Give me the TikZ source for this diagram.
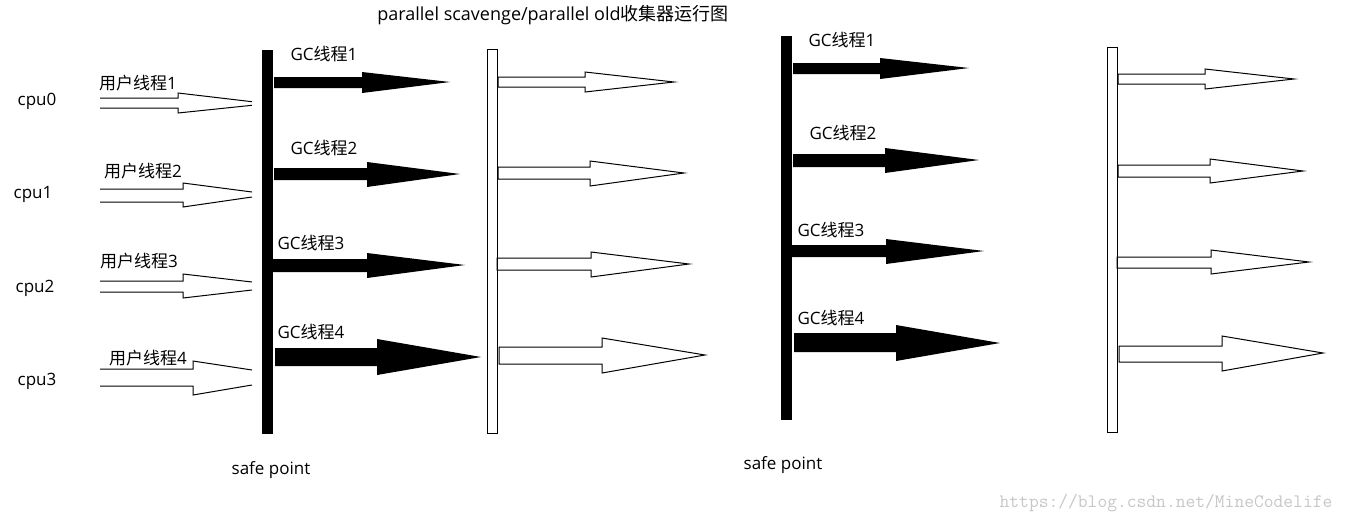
\documentclass[tikz,border=0pt]{standalone}
\usepackage{fontspec}
\setmainfont{Open Sans}
\newfontfamily\cjk{Noto Sans CJK SC}
\begin{document}
\begin{tikzpicture}[x=1pt,y=-1pt,lbl/.style={font=\fontsize{17}{20}\selectfont,inner sep=0pt},sp/.style={fill=black},hb/.style={draw=black,fill=white,line width=1pt},blk/.style={fill=black},hol/.style={draw=black,line width=1pt,line join=miter}]
            \fill[white] (0,0) rectangle (1346,523);
            \useasboundingbox (0,0) rectangle (1346,523);
            \node[lbl,font=\fontsize{18}{20}\selectfont] (title) at (553,15) {parallel scavenge/parallel old{\cjk 收集器运行图}};

            \node[lbl] (cpu0) at (37,101) {cpu0};
            \node[lbl] (cpu1) at (33,194) {cpu1};
            \node[lbl] (cpu2) at (35,288) {cpu2};
            \node[lbl] (cpu3) at (37,381) {cpu3};
            \node[lbl] (u1) at (138,83) {{\cjk 用户线程}1};
            \node[lbl] (u2) at (143,171) {{\cjk 用户线程}2};
            \node[lbl] (u3) at (139,261) {{\cjk 用户线程}3};
            \node[lbl] (u4) at (148,358) {{\cjk 用户线程}4};

            \draw[hol] (100,98) -- (178,98) -- (178,93) -- (252,101.7);
            \draw[hol] (100,108) -- (178,108) -- (178,113) -- (252,105.3);
            \draw[hol] (100,189) -- (183,189) -- (183,183) -- (252,192);
            \draw[hol] (100,202) -- (183,202) -- (183,207) -- (252,197);
            \draw[hol] (100,281) -- (183,281) -- (183,274) -- (252,282);
            \draw[hol] (100,292) -- (183,292) -- (183,298) -- (252,290);
            \draw[hol] (100,369) -- (193,369) -- (193,361) -- (252,370);
            \draw[hol] (100,386) -- (193,386) -- (193,395) -- (252,385);

            \fill[sp] (262,50) rectangle (273,434);
            \node[lbl] (gl1) at (324,54) {GC{\cjk 线程}1};
            \node[lbl] (gl2) at (324,148) {GC{\cjk 线程}2};
            \node[lbl] (gl3) at (311,243) {GC{\cjk 线程}3};
            \node[lbl] (gl4) at (311,332) {GC{\cjk 线程}4};
            \fill[blk] (274,77) -- (362,77) -- (362,72) -- (450,82) -- (362,93) -- (362,88) -- (274,88) -- cycle;
            \fill[blk] (274,168) -- (367,168) -- (367,162) -- (460,174) -- (367,187) -- (367,180) -- (274,180) -- cycle;
            \fill[blk] (273,259) -- (367,259) -- (367,253) -- (465,265) -- (367,278) -- (367,272) -- (273,272) -- cycle;
            \fill[blk] (275,348) -- (377,348) -- (377,339) -- (481,357) -- (377,375) -- (377,366) -- (275,366) -- cycle;

            \draw[hb] (487,49) rectangle (497,433);
            \draw[hol] (498,77) -- (585,77) -- (585,72) -- (674,82) -- (585,92) -- (585,87) -- (498,87) -- cycle;
            \draw[hol] (498,167) -- (590,167) -- (590,161) -- (684,173) -- (590,186) -- (590,179) -- (498,179) -- cycle;
            \draw[hol] (497,258) -- (591,258) -- (591,252) -- (689,264) -- (591,277) -- (591,270) -- (497,270) -- cycle;
            \draw[hol] (499,347) -- (602,347) -- (602,338) -- (705,355) -- (602,373) -- (602,364) -- (499,364) -- cycle;
            \node[lbl] (safe1) at (271,470) {safe point};

            \fill[sp] (781,36) rectangle (792,420);
            \node[lbl] (gr1) at (842,40) {GC{\cjk 线程}1};
            \node[lbl] (gr2) at (843,133) {GC{\cjk 线程}2};
            \node[lbl] (gr3) at (831,230) {GC{\cjk 线程}3};
            \node[lbl] (gr4) at (831,318) {GC{\cjk 线程}4};
            \fill[blk] (793,63) -- (880,63) -- (880,58) -- (969,68) -- (880,79) -- (880,74) -- (793,74) -- cycle;
            \fill[blk] (793,154) -- (885,154) -- (885,148) -- (979,160) -- (885,173) -- (885,167) -- (793,167) -- cycle;
            \fill[blk] (792,245) -- (886,245) -- (886,239) -- (984,251) -- (886,264) -- (886,257) -- (792,257) -- cycle;
            \fill[blk] (794,333) -- (896,333) -- (896,325) -- (1000,343) -- (896,361) -- (896,352) -- (794,352) -- cycle;

            \draw[hb] (1107,47) rectangle (1117,432);
            \draw[hol] (1118,74) -- (1205,74) -- (1205,69) -- (1294,79) -- (1205,89) -- (1205,84) -- (1118,84) -- cycle;
            \draw[hol] (1118,165) -- (1210,165) -- (1210,159) -- (1303,171) -- (1210,183) -- (1210,177) -- (1118,177) -- cycle;
            \draw[hol] (1117,257) -- (1211,257) -- (1211,250) -- (1309,262) -- (1211,274) -- (1211,268) -- (1117,268) -- cycle;
            \draw[hol] (1119,346) -- (1222,346) -- (1222,336) -- (1323,353) -- (1222,371) -- (1222,362) -- (1119,362) -- cycle;
            \node[lbl] (safe2) at (783,465) {safe point};

            \node[font=\fontsize{19}{19}\ttfamily,text=black!22,inner sep=0pt] (wm) at (1166,503) {https://blog.csdn.net/MineCodelife};
          \end{tikzpicture}
\end{document}
